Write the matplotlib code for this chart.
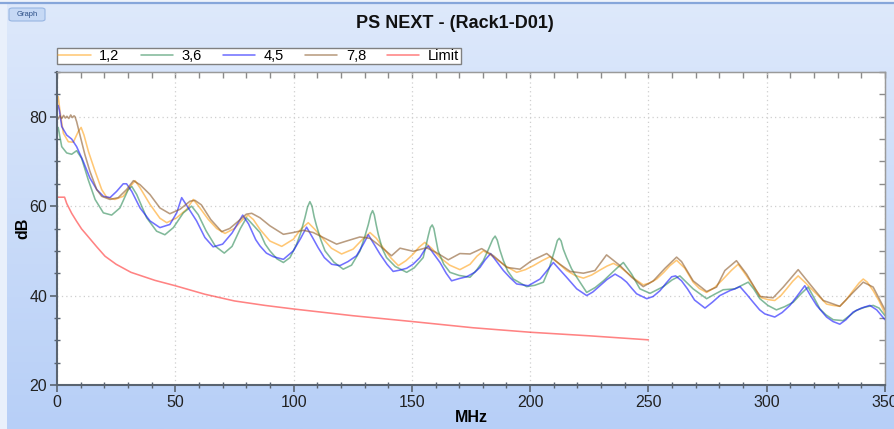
import numpy as np
import matplotlib
matplotlib.use("Agg")
import matplotlib.pyplot as plt
from matplotlib.patches import Rectangle, FancyBboxPatch
from matplotlib.ticker import MultipleLocator

plt.rcParams['font.family'] = ['Liberation Sans', 'DejaVu Sans']

# ---------------- data ----------------
title = "PS NEXT - (Rack1-D01)"
x_label = "MHz"
y_label = "dB"
series_names = ["1,2", "3,6", "4,5", "7,8", "Limit"]

f_12 = [0.5, 1.3, 2.7, 4.8, 6.9, 9.0, 10.2, 11.4, 13.3, 16.1, 18.9, 21.0, 24.5, 28.0, 31.6, 33.0,
        35.1, 39.3, 43.5, 46.4, 50.6, 54.8, 57.6, 60.4, 64.0, 67.5, 71.0, 75.0, 78.5, 80.8, 83.0,
        85.8, 90.0, 95.0, 99.9, 103.0, 106.2, 109.0, 112.6, 116.0, 120.3, 125.2, 129.0, 132.3,
        135.0, 137.9, 141.0, 144.3, 147.5, 150.6, 153.0, 155.5, 158.5, 161.9, 166.0, 170.3, 174.6,
        177.5, 180.2, 183.0, 185.9, 190.0, 194.3, 198.0, 201.4, 205.0, 208.4, 212.0, 215.4, 219.0,
        222.5, 226.0, 229.5, 232.5, 235.2, 238.0, 240.8, 244.0, 247.8, 250.5, 253.5, 256.5, 259.1,
        261.9, 265.4, 268.9, 271.5, 274.6, 278.0, 281.6, 285.0, 287.9, 290.0, 292.9, 295.5, 297.8,
        300.5, 303.4, 306.0, 308.4, 311.0, 313.3, 316.5, 319.6, 322.5, 325.3, 328.0, 330.9, 333.5,
        336.5, 339.0, 340.8, 342.5, 345.0, 347.5, 350.0]
db_12 = [84.5, 81.1, 76.3, 74.4, 74.3, 76.7, 77.6, 75.9, 72.2, 67.8, 63.7, 62.0, 61.5, 62.2, 64.8, 65.7,
         64.1, 60.4, 57.3, 56.3, 57.4, 59.3, 61.5, 59.6, 57.0, 55.0, 53.9, 55.0, 57.0, 58.0, 57.0,
         54.8, 52.2, 51.0, 52.6, 54.8, 56.3, 54.8, 52.6, 50.6, 49.3, 50.4, 52.5, 54.1,
         52.8, 50.7, 48.5, 46.7, 47.8, 49.3, 50.8, 51.9, 50.5, 48.5, 46.8, 45.8, 47.0,
         48.8, 50.0, 49.2, 48.1, 46.5, 45.2, 45.8, 46.7, 47.8, 48.7, 47.2, 45.6, 44.5,
         43.9, 44.6, 45.7, 46.6, 47.2, 46.4, 45.2, 43.8, 42.4, 42.8, 43.7, 45.2, 46.7,
         47.9, 46.1, 43.0, 41.6, 40.7, 41.8, 43.7, 45.6, 47.0, 45.5, 43.3, 41.2, 39.5,
         39.1, 38.9, 40.0, 41.5, 43.2, 44.4, 42.8, 41.1, 39.6, 38.1, 37.8, 37.6, 39.0,
         41.1, 42.8, 43.7, 43.0, 41.1, 38.8, 36.0]

f_36 = [0.5, 2.0, 4.1, 6.2, 8.3, 10.4, 13.2, 16.1, 19.6, 23.1, 26.6, 30.1, 31.6, 33.7, 37.9, 42.1,
        45.6, 49.2, 53.4, 56.9, 59.7, 63.0, 67.0, 70.7, 74.0, 77.5, 80.1, 82.5, 85.8, 88.0, 90.0,
        93.0, 95.7, 98.5, 101.3, 103.0, 104.8, 105.9, 106.9, 107.8, 108.7, 109.7, 111.5, 113.3,
        117.0, 121.0, 124.5, 128.1, 130.0, 131.6, 132.6, 133.4, 134.1, 134.9, 135.8, 137.5, 139.3,
        143.0, 147.8, 151.0, 154.8, 156.9, 157.8, 158.6, 159.3, 160.1, 161.1, 163.5, 166.1, 170.0,
        174.6, 177.5, 180.2, 182.5, 184.2, 185.2, 186.1, 187.2, 188.7, 190.5, 192.9, 198.5, 202.0,
        205.6, 208.0, 210.5, 211.5, 212.3, 213.1, 214.0, 215.4, 217.5, 219.7, 223.9, 227.5, 231.0,
        236.6, 239.4, 241.0, 242.9, 246.4, 250.7, 256.3, 260.0, 263.3, 266.0, 268.9, 274.6, 278.0,
        281.6, 286.5, 292.2, 294.5, 297.1, 300.5, 304.1, 307.5, 311.2, 314.5, 317.5, 320.0, 322.5,
        325.0, 328.1, 332.3, 335.0, 337.9, 341.5, 345.0, 347.5, 350.0]
db_36 = [77.6, 73.3, 71.9, 71.6, 72.4, 70.7, 65.9, 61.5, 58.5, 58.0, 59.6, 63.7, 64.4, 62.6, 57.4, 54.4,
         53.6, 55.2, 58.5, 60.0, 58.1, 54.5, 51.0, 49.5, 51.0, 55.0, 57.4, 56.0, 54.1, 51.5, 50.0,
         48.2, 47.4, 48.5, 51.5, 54.0, 57.4, 59.8, 61.0, 60.0, 57.6, 55.6, 52.5, 50.0,
         47.5, 45.9, 46.8, 50.0, 53.0, 55.9, 58.1, 59.0, 58.1, 55.9, 53.7, 50.5, 48.5,
         46.5, 45.2, 46.2, 48.5, 53.3, 55.2, 55.8, 55.0, 52.8, 50.0, 47.0, 45.2, 44.5,
         44.1, 45.8, 47.8, 50.5, 52.6, 53.3, 52.4, 50.2, 47.8, 45.5, 43.7, 42.0, 42.3,
         43.0, 46.0, 50.4, 52.3, 52.8, 52.2, 50.4, 48.5, 46.0, 44.1, 40.7, 41.8, 43.3,
         46.1, 47.4, 46.2, 44.8, 41.5, 40.5, 42.0, 43.5, 44.4, 43.0, 41.5, 39.3, 40.3,
         41.3, 41.5, 43.0, 41.5, 39.3, 37.8, 36.8, 37.5, 38.5, 40.4, 41.9, 39.5, 37.0,
         35.7, 34.6, 34.4, 35.5, 36.7, 37.4, 37.8, 37.2, 35.5]

f_45 = [0.5, 1.0, 2.0, 4.1, 6.2, 8.3, 11.1, 13.9, 16.8, 19.6, 22.4, 25.2, 28.0, 29.4, 31.6, 35.1,
        39.3, 43.5, 47.7, 50.6, 52.7, 55.5, 59.0, 62.5, 66.0, 70.0, 74.0, 78.5, 81.0, 84.0, 85.8,
        88.5, 91.4, 95.7, 99.9, 103.0, 105.5, 108.0, 110.4, 113.0, 116.1, 119.6, 123.0, 126.6,
        129.5, 131.6, 134.0, 136.5, 139.5, 142.1, 145.0, 147.8, 150.5, 153.4, 155.5, 156.9, 159.0,
        161.9, 164.5, 166.8, 170.0, 173.1, 176.6, 178.8, 181.0, 183.3, 186.0, 188.7, 191.5, 194.3,
        199.2, 204.2, 207.0, 209.8, 212.5, 215.4, 219.7, 223.9, 226.5, 229.5, 232.5, 235.9, 238.5,
        240.8, 243.0, 245.0, 249.3, 252.0, 254.9, 257.5, 259.8, 261.5, 264.0, 266.5, 269.5, 273.9,
        277.0, 280.2, 284.4, 286.5, 288.7, 291.5, 294.3, 297.0, 299.2, 303.4, 306.5, 309.8, 313.0,
        316.1, 318.5, 321.1, 325.3, 328.0, 330.9, 333.5, 336.5, 340.0, 343.6, 346.5, 350.0]
db_45 = [82.5, 81.5, 77.8, 75.9, 75.0, 73.3, 70.0, 66.3, 63.7, 62.2, 61.9, 63.3, 65.0, 65.0, 63.3, 59.6,
         56.7, 55.2, 55.9, 58.5, 61.9, 59.6, 56.7, 53.0, 50.9, 51.5, 54.0, 58.0, 56.0, 52.5, 51.1,
         49.5, 48.7, 48.1, 50.0, 52.8, 55.3, 53.0, 50.7, 48.5, 47.0, 46.7, 47.6, 48.9,
         51.5, 53.6, 51.5, 49.3, 47.0, 45.4, 45.7, 46.1, 47.0, 48.5, 50.3, 51.1, 49.5,
         47.4, 45.0, 43.3, 43.8, 44.2, 45.2, 46.3, 48.0, 49.4, 47.5, 45.6, 44.0, 42.6,
         42.2, 43.7, 45.5, 47.4, 45.8, 44.1, 41.5, 40.0, 40.8, 42.2, 43.6, 44.8, 44.0,
         43.0, 41.6, 40.4, 39.3, 39.8, 41.1, 42.8, 44.2, 44.4, 43.3, 41.5, 39.0, 37.2,
         38.5, 40.0, 41.1, 41.5, 42.0, 40.3, 38.5, 36.8, 35.9, 35.2, 36.2, 37.8, 40.0,
         42.2, 40.0, 37.8, 35.2, 34.2, 33.6, 34.6, 36.3, 37.2, 37.8, 36.8, 34.6]

f_78 = [0.5, 1.2, 2.0, 2.8, 3.5, 4.2, 5.0, 5.8, 6.5, 7.2, 7.6, 8.3, 9.7, 11.8, 13.9, 16.8, 18.9, 22.4,
        25.9, 29.4, 32.3, 35.1, 39.3, 43.5, 47.7, 52.0, 56.2, 58.3, 61.0, 65.0, 69.6, 73.0, 77.0,
        80.0, 82.3, 85.8, 90.0, 95.7, 99.9, 104.1, 108.3, 114.0, 118.2, 122.4, 128.0, 132.3, 136.5,
        139.0, 141.4, 145.0, 150.6, 156.2, 160.4, 165.4, 170.3, 174.6, 179.5, 184.5, 190.1, 195.7,
        200.6, 207.0, 212.6, 216.9, 222.5, 227.4, 232.3, 238.0, 242.9, 247.8, 252.1, 257.0, 261.9,
        264.0, 268.9, 274.6, 278.8, 282.3, 287.2, 291.5, 297.1, 302.7, 307.0, 313.3, 318.2, 323.9,
        330.9, 336.5, 340.8, 345.0, 350.0]
db_78 = [79.5, 80.2, 79.6, 80.3, 79.7, 80.1, 79.6, 80.4, 79.8, 80.2, 80.0, 78.9, 75.9, 71.5, 67.8, 63.7,
         62.2, 61.5, 61.9, 63.7, 65.7, 64.8, 62.6, 59.6, 58.3, 59.3, 61.1, 61.3, 60.3, 57.0, 54.3,
         55.0, 56.8, 58.2, 58.4, 57.4, 55.6, 53.7, 54.1, 54.6, 54.1, 52.6, 51.5, 52.2, 53.1, 52.8,
         51.1, 50.0, 48.9, 50.6, 49.9, 50.7, 49.6, 48.0, 49.4, 49.3, 50.5, 48.9, 46.3, 45.9,
         47.8, 49.4, 47.0, 45.4, 45.0, 45.6, 49.1, 46.7, 44.1, 42.0, 43.3, 46.1, 48.6,
         47.6, 43.3, 40.9, 41.9, 45.6, 47.8, 44.8, 39.8, 39.5, 41.9, 45.8, 42.6, 38.9,
         37.6, 40.7, 43.0, 41.9, 36.8]

f_lim = [0.5, 3.2, 4.1, 6.2, 8.3, 10.4, 12.5, 16.8, 20.3, 25.0, 31.25, 41.4, 50.0, 62.5, 75.0, 87.9,
         100.0, 125.0, 150.0, 175.9, 200.0, 225.0, 250.0]
db_lim = [62.0, 62.0, 60.6, 58.4, 56.6, 54.9, 53.6, 50.9, 48.8, 47.0, 45.2, 43.4, 42.2, 40.3, 38.8, 37.8,
          37.0, 35.5, 34.2, 32.8, 31.8, 31.0, 30.1]

x_range = (0, 350)
y_range = (20, 90)

# ---------------- figure ----------------
W, H = 894, 429
fig = plt.figure(figsize=(W / 100, H / 100), dpi=100)

# background gradient panel
bg = fig.add_axes([0, 0, 1, 1], zorder=-5)
grad = np.linspace(0, 1, 256).reshape(-1, 1)
top_c = np.array([222, 233, 251]) / 255
bot_c = np.array([183, 207, 247]) / 255
img = top_c[None, None, :] * (1 - grad[:, :, None]) + bot_c[None, None, :] * grad[:, :, None]
bg.imshow(img, aspect='auto', extent=[0, 1, 0, 1], origin='upper')
bg.add_patch(Rectangle((0, 0), 7 / W, 1 - 4 / H, color='#e9f0fb', lw=0))
bg.axhline(1 - 3 / H, color='#86a6da', lw=1.6)
bg.add_patch(Rectangle((0, 1 - 3 / H), 1, 3 / H, color='#eef3fb', lw=0))
bg.add_patch(FancyBboxPatch((9 / W, 1 - 21 / H), 36 / W, 13 / H,
                            boxstyle="round,pad=0,rounding_size=0.004",
                            facecolor='#c6d9f5', edgecolor='#98b6e2', lw=0.8))
bg.text(27 / W, 1 - 14.5 / H, "Graph", fontsize=5.5, color='#2c4f86', ha='center', va='center')
bg.set_xlim(0, 1)
bg.set_ylim(0, 1)
bg.axis('off')

ax = fig.add_axes([57 / W, 1 - 385 / H, (885 - 57) / W, (385 - 72) / H])
ax.set_facecolor('white')

colors = ['#ffa31a', '#2e8b57', '#1414ff', '#8b5a2b', '#ff3030']
datasets = [(f_12, db_12), (f_36, db_36), (f_45, db_45), (f_78, db_78), (f_lim, db_lim)]
handles = []
for (fx, dy), name, c in zip(datasets, series_names, colors):
    h, = ax.plot(fx, dy, color=c, lw=1.15, alpha=0.6, label=name,
                 solid_joinstyle='round', solid_capstyle='round')
    handles.append(h)

ax.set_xlim(*x_range)
ax.set_ylim(*y_range)
ax.xaxis.set_major_locator(MultipleLocator(50))
ax.xaxis.set_minor_locator(MultipleLocator(10))
ax.yaxis.set_major_locator(MultipleLocator(20))
ax.yaxis.set_minor_locator(MultipleLocator(5))
ax.grid(True, which='major', color='#cfcfcf', lw=0.9, linestyle=(0, (1, 2.5)))
ax.tick_params(which='major', direction='out', length=5, width=1.2, color='#5a6470',
               labelsize=11.5, labelcolor='#222222', pad=2)
ax.tick_params(which='minor', direction='inout', length=5, width=1.0, color='#5a6470')

for s in ['left', 'bottom']:
    ax.spines[s].set_color('#5a6470')
    ax.spines[s].set_linewidth(1.5)
for s in ['top', 'right']:
    ax.spines[s].set_color('#9a9a9a')
    ax.spines[s].set_linewidth(1.0)

secx = ax.secondary_xaxis('top')
secx.xaxis.set_major_locator(MultipleLocator(10))
secx.tick_params(direction='in', length=4, width=1, color='#8a8a8a', labeltop=False)
secx.spines['top'].set_color('#9a9a9a')
secy = ax.secondary_yaxis('right')
secy.yaxis.set_major_locator(MultipleLocator(5))
secy.tick_params(direction='in', length=4, width=1, color='#8a8a8a', labelright=False)
secy.spines['right'].set_color('#9a9a9a')

ax.set_xlabel(x_label, fontsize=11.5, fontweight='bold', labelpad=0)
ax.set_ylabel(y_label, fontsize=11.5, fontweight='bold')
ax.yaxis.set_label_coords((30 - 57) / 828, 0.5)

fig.text(455 / W, 1 - 24 / H, title, fontsize=13, fontweight='bold', ha='center', va='center',
         color='#111111')

leg = fig.legend(handles=handles, labels=series_names, loc='upper left',
                 bbox_to_anchor=(57 / W, 1 - 47.5 / H), ncol=5, fontsize=10.5, frameon=True,
                 fancybox=False, edgecolor='#808080', facecolor='white', framealpha=1,
                 handlelength=2.2, handletextpad=0.6, columnspacing=1.45, borderpad=0.1,
                 borderaxespad=0)
leg.get_frame().set_linewidth(1.0)

fig.savefig("out.png", dpi=100)
